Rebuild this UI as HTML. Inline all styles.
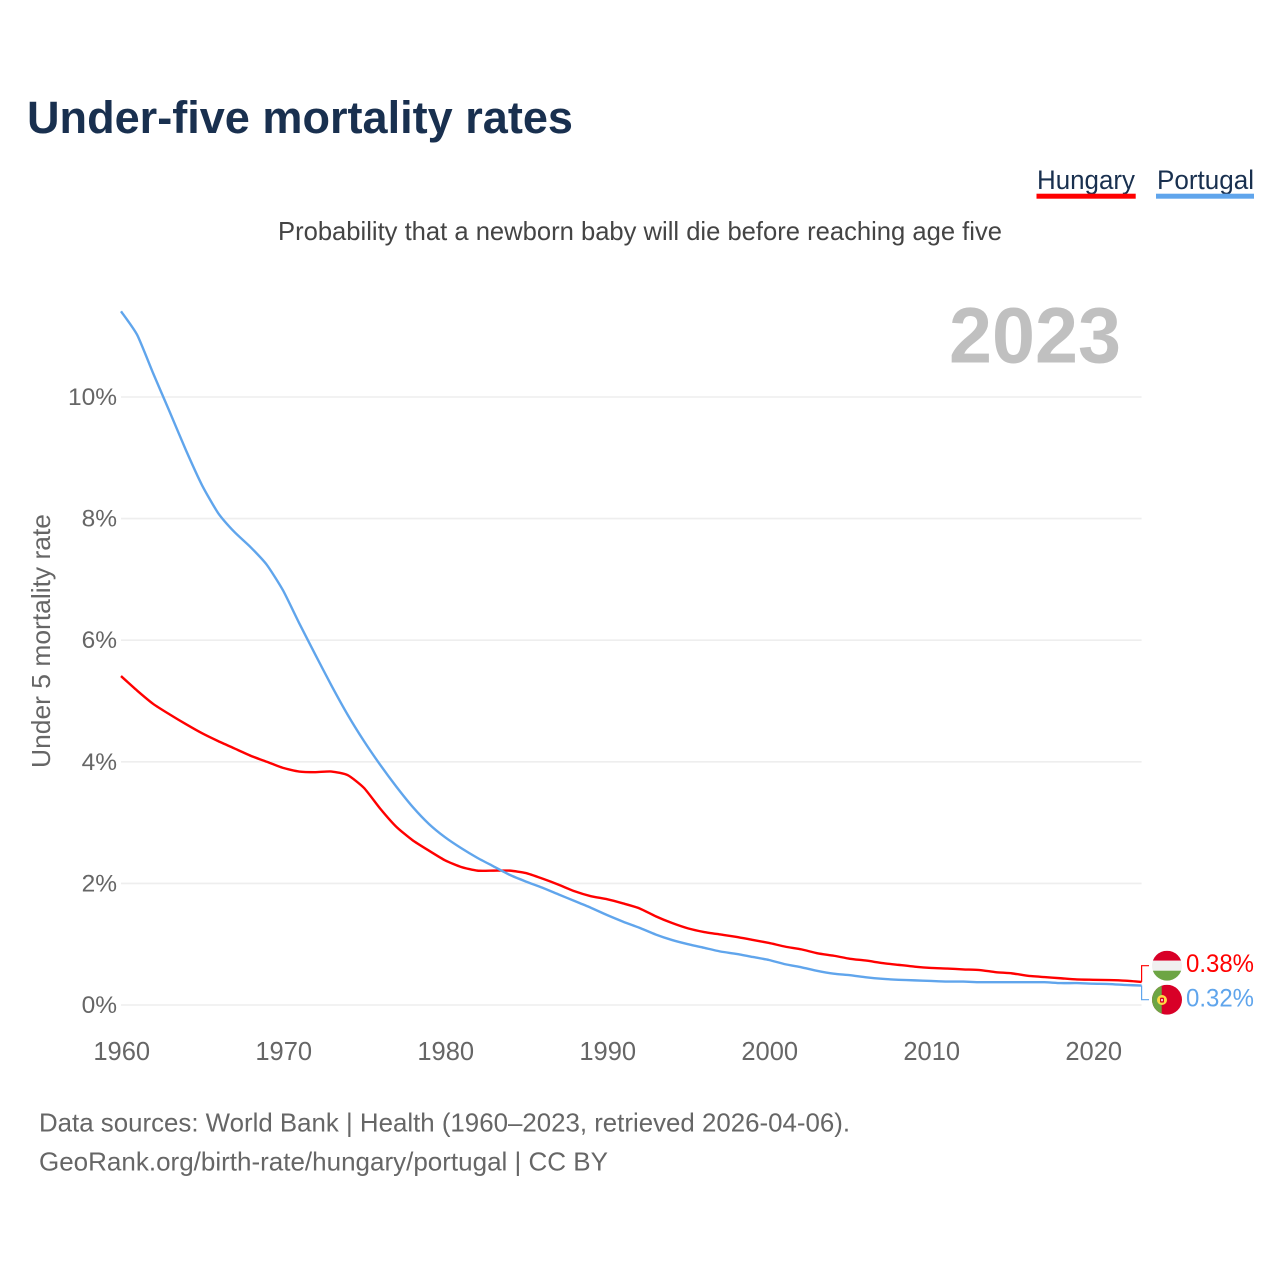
<!DOCTYPE html>
<html lang="en">
<head>
<meta charset="utf-8">
<title>Under-five mortality rates</title>
<style>
html,body{margin:0;padding:0;background:#fff;width:1280px;height:1280px;overflow:hidden}
svg{display:block}
text{font-family:"Liberation Sans",sans-serif}
</style>
</head>
<body>
<svg id="chart" width="1280" height="1280" viewBox="0 0 1280 1280" xmlns="http://www.w3.org/2000/svg">
  <text x="27" y="133" font-size="45" font-weight="700" fill="#19304f" textLength="546" lengthAdjust="spacingAndGlyphs">Under-five mortality rates</text>
  <text x="1037" y="189" font-size="27" fill="#19304f" textLength="98" lengthAdjust="spacingAndGlyphs">Hungary</text>
  <rect x="1036.5" y="193.7" width="99.2" height="5" fill="#ff0000"/>
  <text x="1157" y="189" font-size="27" fill="#19304f" textLength="97" lengthAdjust="spacingAndGlyphs">Portugal</text>
  <rect x="1156" y="193.7" width="98" height="5" fill="#60a5ec"/>
  <text x="278" y="240" font-size="26" fill="#444444" textLength="724" lengthAdjust="spacingAndGlyphs">Probability that a newborn baby will die before reaching age five</text>
  <text x="949" y="362.5" font-size="79" font-weight="700" fill="#c0c0c0" textLength="172" lengthAdjust="spacingAndGlyphs">2023</text>
  <text transform="translate(50,768) rotate(-90)" x="0" y="0" font-size="26" fill="#666666" textLength="254" lengthAdjust="spacingAndGlyphs">Under 5 mortality rate</text>
  <g id="grid"></g>
  <g id="yticks"></g>
  <g id="xticks"></g>
  <g id="series"></g>
  <g id="ends"></g>

  <defs>
    <clipPath id="clip-hu"><circle cx="1167" cy="965.7" r="15"/></clipPath>
    <clipPath id="clip-pt"><circle cx="1167" cy="999.7" r="15"/></clipPath>
  </defs>
  <g clip-path="url(#clip-hu)">
    <rect x="1152" y="950.7" width="30" height="10" fill="#d80027"/>
    <rect x="1152" y="960.7" width="30" height="10" fill="#f0f0f0"/>
    <rect x="1152" y="970.7" width="30" height="10" fill="#6da544"/>
  </g>
  <g clip-path="url(#clip-pt)">
    <rect x="1152" y="984.7" width="30" height="30" fill="#d80027"/>
    <rect x="1152" y="984.7" width="9.7" height="30" fill="#6da544"/>
    <circle cx="1162" cy="1000" r="5" fill="#ffda44"/>
    <rect x="1160" y="997.6" width="4" height="5" rx="1" fill="#d80027"/>
    <rect x="1161.2" y="999" width="1.6" height="2.2" fill="#f0f0f0"/>
  </g>

  <text x="39" y="1131.5" font-size="26" fill="#666666" textLength="811" lengthAdjust="spacingAndGlyphs">Data sources: World Bank | Health (1960–2023, retrieved 2026-04-06).</text>
  <text x="39" y="1170.5" font-size="26" fill="#666666" textLength="569" lengthAdjust="spacingAndGlyphs">GeoRank.org/birth-rate/hungary/portugal | CC BY</text>
</svg>
<script>
const years = [1960,1961,1962,1963,1964,1965,1966,1967,1968,1969,1970,1971,1972,1973,1974,1975,1976,1977,1978,1979,1980,1981,1982,1983,1984,1985,1986,1987,1988,1989,1990,1991,1992,1993,1994,1995,1996,1997,1998,1999,2000,2001,2002,2003,2004,2005,2006,2007,2008,2009,2010,2011,2012,2013,2014,2015,2016,2017,2018,2019,2020,2021,2022,2023];
const hungary = [5.41,5.17,4.95,4.78,4.62,4.47,4.34,4.22,4.10,4.00,3.90,3.84,3.83,3.84,3.78,3.57,3.23,2.93,2.71,2.54,2.38,2.27,2.21,2.21,2.21,2.17,2.08,1.98,1.87,1.79,1.74,1.67,1.59,1.46,1.35,1.26,1.20,1.16,1.12,1.07,1.02,0.96,0.915,0.85,0.81,0.76,0.73,0.69,0.66,0.63,0.61,0.60,0.585,0.575,0.54,0.52,0.48,0.46,0.44,0.42,0.415,0.41,0.40,0.38];
const portugal = [11.41,11.02,10.38,9.76,9.13,8.55,8.09,7.78,7.53,7.24,6.82,6.28,5.76,5.25,4.77,4.34,3.95,3.59,3.26,2.98,2.76,2.58,2.42,2.28,2.14,2.03,1.93,1.82,1.71,1.60,1.48,1.37,1.27,1.16,1.07,1.00,0.94,0.88,0.84,0.79,0.74,0.67,0.62,0.56,0.515,0.49,0.455,0.43,0.415,0.405,0.395,0.385,0.385,0.375,0.375,0.375,0.375,0.375,0.36,0.36,0.35,0.345,0.33,0.32];
const yTickValues = [0,2,4,6,8,10];
const xTickValues = [1960,1970,1980,1990,2000,2010,2020];
const hungaryColor = '#ff0000';
const portugalColor = '#60a5ec';

const NS = 'http://www.w3.org/2000/svg';
function xScale(year){ return 121 + (year - 1960) * 16.2; }
function yScale(v){ return 1005 - v * 60.8; }
function mk(tag, parent){ const el = document.createElementNS(NS, tag); parent.appendChild(el); return el; }

const gridG = document.getElementById('grid');
const yG = document.getElementById('yticks');
const xG = document.getElementById('xticks');
const seriesG = document.getElementById('series');
const endsG = document.getElementById('ends');

yTickValues.forEach(function(v){
  const line = mk('line', gridG);
  
  
  line.setAttribute('x1', xScale(1960));
  line.setAttribute('x2', xScale(2023));
  line.setAttribute('y1', yScale(v));
  line.setAttribute('y2', yScale(v));
  line.setAttribute('stroke', '#eeeeee');
  line.setAttribute('stroke-width', '1.6');

  const t = mk('text', yG);
  
  
  t.setAttribute('x', 117);
  t.setAttribute('y', yScale(v) + 8);
  t.setAttribute('text-anchor', 'end');
  t.setAttribute('font-size', '24.5');
  t.setAttribute('fill', '#666666');
  t.textContent = v + '%';
});

xTickValues.forEach(function(y){
  const t = mk('text', xG);
  
  
  t.setAttribute('x', xScale(y) + 0.7);
  t.setAttribute('y', 1060);
  t.setAttribute('text-anchor', 'middle');
  t.setAttribute('font-size', '25.5');
  t.setAttribute('fill', '#666666');
  t.textContent = y;
});

// Light tangent smoothing between yearly points, as in the source chart.
function linePath(values){
  const pts = values.map(function(v, i){ return [xScale(years[i]), yScale(v)]; });
  const k = 0.1;
  let d = 'M' + pts[0][0].toFixed(2) + ' ' + pts[0][1].toFixed(2);
  for (let i = 0; i < pts.length - 1; i++) {
    const p0 = pts[Math.max(i - 1, 0)];
    const p1 = pts[i];
    const p2 = pts[i + 1];
    const p3 = pts[Math.min(i + 2, pts.length - 1)];
    const c1x = p1[0] + (p2[0] - p0[0]) * k;
    const c1y = p1[1] + (p2[1] - p0[1]) * k;
    const c2x = p2[0] - (p3[0] - p1[0]) * k;
    const c2y = p2[1] - (p3[1] - p1[1]) * k;
    d += 'C' + c1x.toFixed(2) + ' ' + c1y.toFixed(2) + ' ' + c2x.toFixed(2) + ' ' + c2y.toFixed(2) + ' ' + p2[0].toFixed(2) + ' ' + p2[1].toFixed(2);
  }
  return d;
}

const lineHu = mk('path', seriesG);


lineHu.setAttribute('d', linePath(hungary));
lineHu.setAttribute('fill', 'none');
lineHu.setAttribute('stroke', hungaryColor);
lineHu.setAttribute('stroke-width', '2.4');
lineHu.setAttribute('stroke-linejoin', 'round');

const linePt = mk('path', seriesG);


linePt.setAttribute('d', linePath(portugal));
linePt.setAttribute('fill', 'none');
linePt.setAttribute('stroke', portugalColor);
linePt.setAttribute('stroke-width', '2.4');
linePt.setAttribute('stroke-linejoin', 'round');

const lastX = xScale(years[years.length - 1]);
const huEnd = hungary[hungary.length - 1];
const ptEnd = portugal[portugal.length - 1];

const connHu = mk('polyline', endsG);


connHu.setAttribute('points', lastX + ',' + yScale(huEnd) + ' ' + lastX + ',965.7 1149,965.7');
connHu.setAttribute('fill', 'none');
connHu.setAttribute('stroke', hungaryColor);
connHu.setAttribute('stroke-width', '1.2');

const connPt = mk('polyline', endsG);


connPt.setAttribute('points', lastX + ',' + yScale(ptEnd) + ' ' + lastX + ',999.7 1149,999.7');
connPt.setAttribute('fill', 'none');
connPt.setAttribute('stroke', portugalColor);
connPt.setAttribute('stroke-width', '1.2');

const valHu = mk('text', endsG);


valHu.setAttribute('x', 1186);
valHu.setAttribute('y', 972);
valHu.setAttribute('font-size', '25');
valHu.setAttribute('fill', hungaryColor);
valHu.setAttribute('textLength', '68');
valHu.setAttribute('lengthAdjust', 'spacingAndGlyphs');
valHu.textContent = huEnd.toFixed(2) + '%';

const valPt = mk('text', endsG);


valPt.setAttribute('x', 1186);
valPt.setAttribute('y', 1006.5);
valPt.setAttribute('font-size', '25');
valPt.setAttribute('fill', portugalColor);
valPt.setAttribute('textLength', '68');
valPt.setAttribute('lengthAdjust', 'spacingAndGlyphs');
valPt.textContent = ptEnd.toFixed(2) + '%';
</script>
</body>
</html>
